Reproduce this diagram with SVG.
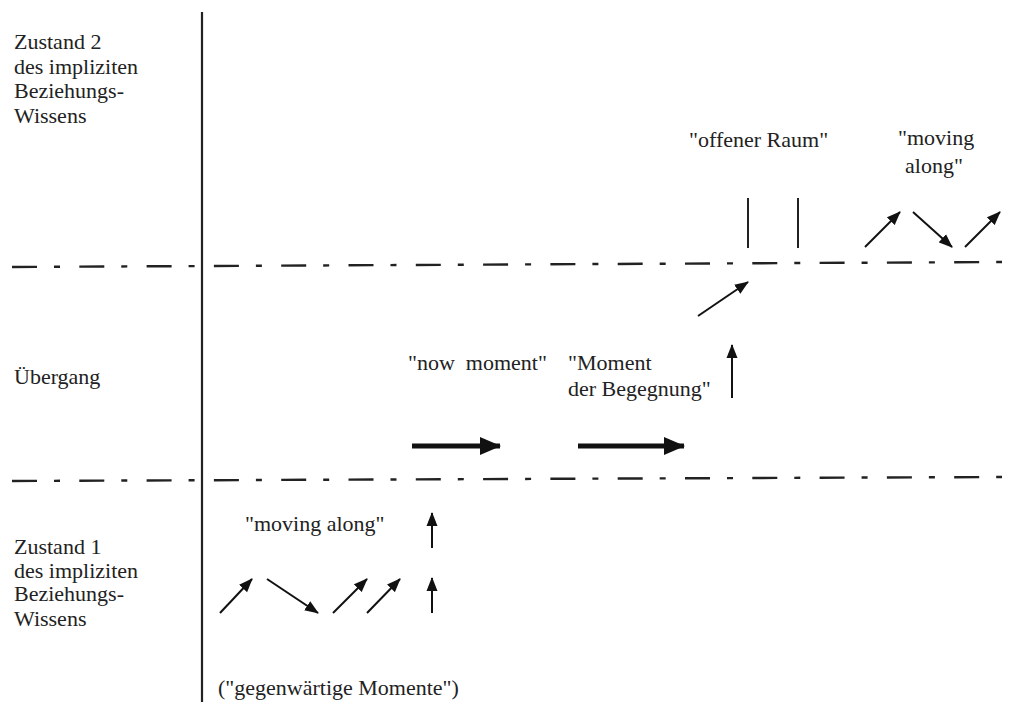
<svg xmlns="http://www.w3.org/2000/svg" width="1012" height="702" viewBox="0 0 1012 702">
<style>
.lbl{font-family:"Liberation Serif","DejaVu Serif",serif;font-size:22px;fill:#222}
.dash{stroke:#222;stroke-width:2.4;fill:none;stroke-dasharray:25 17 6 19.3}
.thin{stroke:#111;stroke-width:2;fill:none;marker-end:url(#ah)}
.thick{stroke:#111;stroke-width:5;fill:none;marker-end:url(#ahb)}
.bar{stroke:#222;stroke-width:2;fill:none}
</style>
<defs>
<marker id="ah" markerUnits="userSpaceOnUse" markerWidth="15" markerHeight="12" refX="13" refY="5.5" orient="auto" viewBox="0 0 15 11"><path d="M0,0 L14,5.5 L0,11 Z" fill="#111"/></marker>
<marker id="ahb" markerUnits="userSpaceOnUse" markerWidth="22" markerHeight="18" refX="20" refY="9" orient="auto" viewBox="0 0 22 18"><path d="M0,0 L21,9 L0,18 Z" fill="#111"/></marker>
</defs>
<rect width="1012" height="702" fill="#fff"/>
<g id="axes">
<line x1="202" y1="12" x2="202" y2="702" stroke="#222" stroke-width="2.2"/>
<line class="dash" x1="12" y1="267" x2="1002" y2="262"/>
<line class="dash" x1="12" y1="481" x2="1002" y2="477"/>
</g>
<g id="labels-left" class="lbl">
<text class="lbl" x="14" y="49">Zustand 2</text>
<text class="lbl" x="14" y="74">des impliziten</text>
<text class="lbl" x="14" y="98">Beziehungs-</text>
<text class="lbl" x="14" y="123">Wissens</text>
<text class="lbl" x="14" y="384">Übergang</text>
<text class="lbl" x="14" y="554">Zustand 1</text>
<text class="lbl" x="14" y="578">des impliziten</text>
<text class="lbl" x="14" y="601">Beziehungs-</text>
<text class="lbl" x="14" y="626">Wissens</text>
</g>
<g id="state1">
<text class="lbl" x="245" y="531">"moving along"</text>
<text class="lbl" x="218" y="695">("gegenwärtige Momente")</text>
</g>
<g id="transition">
<text class="lbl" x="408" y="370" xml:space="preserve">"now  moment"</text>
<text class="lbl" x="568" y="370">"Moment</text>
<text class="lbl" x="568" y="396">der Begegnung"</text>
</g>
<g id="state2">
<text class="lbl" x="689" y="147">"offener Raum"</text>
<text class="lbl" x="898" y="145">"moving</text>
<text class="lbl" x="905" y="173">along"</text>
</g>
<g id="bars">
<line class="bar" x1="748" y1="198" x2="748" y2="248"/>
<line class="bar" x1="798" y1="198" x2="798" y2="248"/>
</g>
<g id="connectors">
<line class="thin" x1="220" y1="613" x2="252" y2="579"/>
<line class="thin" x1="267" y1="579" x2="318" y2="613"/>
<line class="thin" x1="333" y1="613" x2="367" y2="579"/>
<line class="thin" x1="367" y1="613" x2="400" y2="579"/>
<line class="thin" x1="432" y1="613" x2="432" y2="578"/>
<line class="thin" x1="432" y1="548" x2="432" y2="513"/>
<line class="thick" x1="412" y1="446" x2="500" y2="446"/>
<line class="thick" x1="578" y1="446" x2="684" y2="446"/>
<line class="thin" x1="732" y1="398" x2="732" y2="345"/>
<line class="thin" x1="698" y1="316" x2="748" y2="282"/>
<line class="thin" x1="865" y1="247" x2="900" y2="212"/>
<line class="thin" x1="913" y1="212" x2="952" y2="247"/>
<line class="thin" x1="965" y1="247" x2="1000" y2="212"/>
</g>
</svg>
